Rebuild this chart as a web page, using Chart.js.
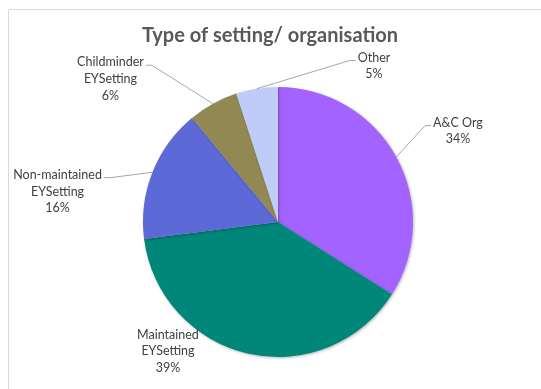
<!DOCTYPE html>
<html>
<head>
<meta charset="utf-8">
<script src="https://cdn.jsdelivr.net/npm/chart.js@4/dist/chart.umd.min.js"></script>
<style>
  html, body { margin: 0; padding: 0; background: #fff; }
  canvas { display: block; }
</style>
</head>
<body>
<canvas id="setting" width="541" height="389"></canvas>
<script>
// share of respondents by type of setting / organisation (%)
const categories = ["A&C Org", "Maintained EYSetting", "Non-maintained EYSetting", "Childminder EYSetting", "Other"];
const labelLines = [["A&C Org"], ["Maintained", "EYSetting"], ["Non-maintained", "EYSetting"], ["Childminder", "EYSetting"], ["Other"]];
const shares = [34, 39, 16, 6, 5];
const sliceColors = ["#A463FF", "#00877A", "#5D69D6", "#928853", "#BFCCF8"];

// where each data label sits, relative to the pie centre in radii, and whether it gets a leader line
const labelPlacement = [
  { dx: 1.333, dy: -0.674, leader: true },
  { dx: -0.815, dy: 0.959, leader: false },
  { dx: -1.633, dy: -0.226, leader: true },
  { dx: -1.241, dy: -1.059, leader: true },
  { dx: 0.711, dy: -1.156, leader: true },
];

const TITLE = "Type of setting/ organisation";
const LABEL_FONT = "12.5px Lato";
const LINE_H = 16.8;

// soft drop shadow under the pie
const pieShadow = {
  id: "pieShadow",
  beforeDatasetsDraw(chart) {
    const ctx = chart.ctx;
    ctx.save();
    ctx.shadowColor = "rgba(0,0,0,0.28)";
    ctx.shadowBlur = 3;
    ctx.shadowOffsetX = 1;
    ctx.shadowOffsetY = 1;
  },
  afterDatasetsDraw(chart) {
    chart.ctx.restore();
  },
};

const frameAndLabels = {
  id: "frameAndLabels",
  beforeDraw(chart) {
    const ctx = chart.ctx;
    ctx.save();
    ctx.strokeStyle = "#D9D9D9";
    ctx.lineWidth = 1;
    ctx.beginPath();
    ctx.moveTo(8.5, chart.height + 2);
    ctx.lineTo(8.5, 9.5);
    ctx.lineTo(chart.width + 2, 9.5);
    ctx.stroke();
    ctx.restore();
  },
  afterDraw(chart) {
    const ctx = chart.ctx;
    const arcs = chart.getDatasetMeta(0).data;
    ctx.save();

    // title
    ctx.fillStyle = "#595959";
    ctx.font = "bold 20px Lato";
    ctx.textAlign = "center";
    ctx.textBaseline = "alphabetic";
    ctx.fillText(TITLE, 270, 42);

    ctx.font = LABEL_FONT;
    ctx.textBaseline = "middle";
    arcs.forEach((arc, i) => {
      const { x, y, startAngle, endAngle, outerRadius } = arc.getProps(["x", "y", "startAngle", "endAngle", "outerRadius"], true);
      const place = labelPlacement[i];
      const lines = labelLines[i].concat([shares[i] + "%"]);
      const lx = x + place.dx * outerRadius;
      const ly = y + place.dy * outerRadius;
      const top = ly - (lines.length - 1) * LINE_H / 2;
      const w = Math.max(...lines.map(t => ctx.measureText(t).width));

      if (place.leader) {
        const mid = (startAngle + endAngle) / 2;
        const sx = x + Math.cos(mid) * outerRadius;
        const sy = y + Math.sin(mid) * outerRadius;
        const right = lx > x;
        const ex = right ? lx - w / 2 - 2 : lx + w / 2 + 2;
        const ey = top + 3;
        const kx = right ? ex - 6 : ex + 6;
        ctx.strokeStyle = "#A6A6A6";
        ctx.lineWidth = 1;
        ctx.beginPath();
        ctx.moveTo(sx, sy);
        ctx.lineTo(kx, ey);
        ctx.lineTo(ex, ey);
        ctx.stroke();
      }

      ctx.fillStyle = "#404040";
      lines.forEach((t, k) => ctx.fillText(t, lx, top + k * LINE_H));
    });
    ctx.restore();
  },
};

new Chart(document.getElementById("setting"), {
  type: "pie",
  data: {
    labels: categories,
    datasets: [
      {
        data: shares,
        backgroundColor: sliceColors,
        borderWidth: 0,
        hoverOffset: 0,
      },
    ],
  },
  options: {
    responsive: false,
    animation: false,
    events: [],
    layout: { padding: { left: 143, top: 87, right: 128, bottom: 32 } },
    plugins: {
      legend: { display: false },
      tooltip: { enabled: false },
    },
  },
  plugins: [pieShadow, frameAndLabels],
});
</script>
</body>
</html>
